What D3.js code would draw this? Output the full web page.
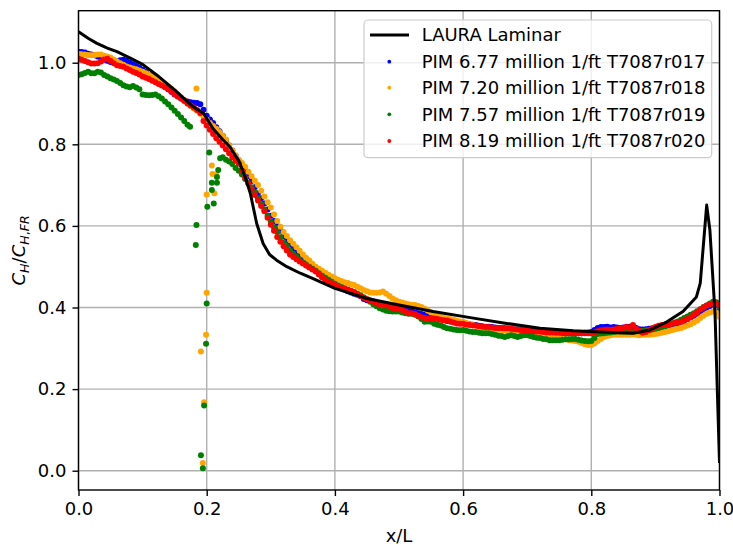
<!DOCTYPE html>
<html>
<head>
<meta charset="utf-8">
<script src="https://cdn.jsdelivr.net/npm/d3@7"></script>
<style>
  body { margin: 0; background: #fff; }
  svg { display: block; font-family: "DejaVu Sans", sans-serif; }
</style>
</head>
<body>
<div id="chart"></div>
<script>
// LAURA laminar prediction
const lauraX = [0, 0.015, 0.028, 0.045, 0.06, 0.08, 0.1, 0.122, 0.153, 0.179, 0.195, 0.21, 0.225, 0.236,
  0.25, 0.26, 0.268, 0.278, 0.288, 0.298, 0.309, 0.325, 0.346, 0.366, 0.4, 0.45, 0.5, 0.553, 0.616,
  0.668, 0.72, 0.772, 0.814, 0.865, 0.892, 0.918, 0.943, 0.964, 0.97, 0.98, 0.985, 0.993, 1.0];
const lauraY = [1.076, 1.06, 1.048, 1.036, 1.027, 1.012, 0.996, 0.97, 0.929, 0.892, 0.876, 0.838, 0.812, 0.794,
  0.76, 0.72, 0.68, 0.606, 0.557, 0.53, 0.516, 0.5, 0.484, 0.471, 0.447, 0.422, 0.406, 0.39, 0.374,
  0.361, 0.349, 0.343, 0.34, 0.337, 0.345, 0.365, 0.39, 0.426, 0.46, 0.651, 0.59, 0.386, 0.019];

// PIM sensor stations (x/L)
const pimX = [
  0, 0.005, 0.01, 0.015, 0.02, 0.025, 0.03, 0.035, 0.04, 0.045,
  0.05, 0.055, 0.06, 0.065, 0.07, 0.075, 0.08, 0.085, 0.09, 0.095,
  0.1, 0.105, 0.11, 0.115, 0.12, 0.125, 0.13, 0.135, 0.14, 0.145,
  0.15, 0.155, 0.16, 0.165, 0.17, 0.175, 0.18, 0.185, 0.19, 0.195,
  0.2, 0.205, 0.21, 0.215, 0.22, 0.225, 0.23, 0.235, 0.24, 0.245,
  0.25, 0.255, 0.26, 0.265, 0.27, 0.275, 0.28, 0.285, 0.29, 0.295,
  0.3, 0.305, 0.31, 0.315, 0.32, 0.325, 0.33, 0.335, 0.34, 0.345,
  0.35, 0.355, 0.36, 0.365, 0.37, 0.375, 0.38, 0.385, 0.39, 0.395,
  0.4, 0.405, 0.41, 0.415, 0.42, 0.425, 0.43, 0.435, 0.44, 0.445,
  0.45, 0.455, 0.46, 0.465, 0.47, 0.475, 0.48, 0.485, 0.49, 0.495,
  0.5, 0.505, 0.51, 0.515, 0.52, 0.525, 0.53, 0.535, 0.54, 0.545,
  0.55, 0.555, 0.56, 0.565, 0.57, 0.575, 0.58, 0.585, 0.59, 0.595,
  0.6, 0.605, 0.61, 0.615, 0.62, 0.625, 0.63, 0.635, 0.64, 0.645,
  0.65, 0.655, 0.66, 0.665, 0.67, 0.675, 0.68, 0.685, 0.69, 0.695,
  0.7, 0.705, 0.71, 0.715, 0.72, 0.725, 0.73, 0.735, 0.74, 0.745,
  0.75, 0.755, 0.76, 0.765, 0.77, 0.775, 0.78, 0.785, 0.79, 0.795,
  0.8, 0.805, 0.81, 0.815, 0.82, 0.825, 0.83, 0.835, 0.84, 0.845,
  0.85, 0.855, 0.86, 0.865, 0.87, 0.875, 0.88, 0.885, 0.89, 0.895,
  0.9, 0.905, 0.91, 0.915, 0.92, 0.925, 0.93, 0.935, 0.94, 0.945,
  0.95, 0.955, 0.96, 0.965, 0.97, 0.975, 0.98, 0.985, 0.99, 0.995,
  1.0];

const r017 = [
  1.027, 1.026, 1.025, 1.022, 1.020, 1.018, 1.015, 1.012, 1.008, 1.005,
  1.002, 1.001, 1.003, 1.006, 1.007, 1.005, 1.000, 0.996, 0.992, 0.988,
  0.983, 0.977, 0.970, 0.966, 0.960, 0.953, 0.946, 0.941, 0.935, 0.929,
  0.922, 0.917, 0.912, 0.908, 0.905, 0.903, 0.902, 0.901, 0.898, 0.885,
  0.870, 0.861, 0.852, 0.842, 0.832, 0.821, 0.810, 0.797, 0.785, 0.772,
  0.760, 0.748, 0.735, 0.722, 0.710, 0.695, 0.680, 0.668, 0.655, 0.640,
  0.625, 0.612, 0.600, 0.588, 0.575, 0.565, 0.555, 0.545, 0.535, 0.525,
  0.515, 0.507, 0.500, 0.495, 0.490, 0.482, 0.475, 0.470, 0.465, 0.460,
  0.455, 0.451, 0.448, 0.444, 0.440, 0.437, 0.434, 0.431, 0.428, 0.421,
  0.418, 0.417, 0.415, 0.411, 0.408, 0.406, 0.407, 0.404, 0.400, 0.399,
  0.398, 0.396, 0.394, 0.392, 0.390, 0.388, 0.386, 0.384, 0.382, 0.380,
  0.377, 0.376, 0.374, 0.372, 0.369, 0.367, 0.366, 0.365, 0.363, 0.362,
  0.362, 0.360, 0.359, 0.358, 0.357, 0.355, 0.354, 0.353, 0.353, 0.352,
  0.351, 0.350, 0.350, 0.349, 0.348, 0.347, 0.346, 0.346, 0.345, 0.344,
  0.344, 0.343, 0.343, 0.342, 0.342, 0.341, 0.341, 0.340, 0.340, 0.339,
  0.339, 0.338, 0.338, 0.337, 0.337, 0.336, 0.337, 0.337, 0.338, 0.339,
  0.340, 0.345, 0.350, 0.352, 0.352, 0.353, 0.351, 0.352, 0.351, 0.350,
  0.351, 0.352, 0.353, 0.352, 0.350, 0.347, 0.346, 0.347, 0.348, 0.349,
  0.350, 0.352, 0.353, 0.354, 0.356, 0.358, 0.360, 0.362, 0.365, 0.368,
  0.372, 0.376, 0.380, 0.385, 0.390, 0.395, 0.400, 0.404, 0.408, 0.407,
  0.395];

const r018 = [
  1.022, 1.021, 1.020, 1.019, 1.018, 1.019, 1.020, 1.020, 1.017, 1.015,
  1.013, 1.008, 1.003, 0.999, 0.995, 0.991, 0.988, 0.986, 0.984, 0.981,
  0.978, 0.974, 0.970, 0.965, 0.960, 0.955, 0.950, 0.946, 0.942, 0.936,
  0.930, 0.922, 0.915, 0.908, 0.900, 0.894, 0.888, 0.882, 0.875, 0.868,
  0.860, 0.852, 0.845, 0.838, 0.830, 0.821, 0.812, 0.798, 0.785, 0.773,
  0.762, 0.754, 0.745, 0.733, 0.722, 0.711, 0.700, 0.686, 0.672, 0.658,
  0.645, 0.628, 0.612, 0.598, 0.585, 0.575, 0.565, 0.556, 0.548, 0.539,
  0.530, 0.522, 0.515, 0.507, 0.500, 0.495, 0.490, 0.485, 0.480, 0.476,
  0.472, 0.468, 0.465, 0.462, 0.460, 0.457, 0.455, 0.451, 0.447, 0.443,
  0.440, 0.437, 0.436, 0.436, 0.437, 0.439, 0.434, 0.428, 0.422, 0.418,
  0.414, 0.412, 0.410, 0.408, 0.407, 0.406, 0.404, 0.401, 0.397, 0.392,
  0.388, 0.384, 0.380, 0.377, 0.375, 0.373, 0.372, 0.370, 0.368, 0.366,
  0.365, 0.362, 0.359, 0.357, 0.355, 0.352, 0.350, 0.349, 0.348, 0.347,
  0.346, 0.345, 0.345, 0.343, 0.342, 0.341, 0.340, 0.338, 0.337, 0.336,
  0.335, 0.334, 0.333, 0.331, 0.330, 0.329, 0.329, 0.328, 0.327, 0.325,
  0.324, 0.323, 0.322, 0.320, 0.319, 0.318, 0.316, 0.313, 0.310, 0.308,
  0.308, 0.312, 0.318, 0.323, 0.328, 0.330, 0.332, 0.333, 0.333, 0.333,
  0.333, 0.333, 0.333, 0.334, 0.333, 0.332, 0.333, 0.333, 0.333, 0.334,
  0.335, 0.336, 0.338, 0.340, 0.342, 0.344, 0.346, 0.348, 0.350, 0.353,
  0.356, 0.359, 0.363, 0.368, 0.374, 0.380, 0.385, 0.388, 0.390, 0.387,
  0.377];

const r019 = [
  0.970, 0.972, 0.975, 0.978, 0.974, 0.974, 0.978, 0.976, 0.970, 0.966,
  0.962, 0.959, 0.955, 0.950, 0.945, 0.942, 0.940, 0.943, 0.939, 0.935,
  0.922, 0.921, 0.920, 0.921, 0.922, 0.918, 0.912, 0.905, 0.898, 0.890,
  0.882, 0.874, 0.866, 0.857, 0.848, null, null, null, null, null,
  null, null, null, null, null, 0.768, 0.762, 0.758, 0.752, 0.742,
  0.735, 0.726, 0.715, 0.705, 0.695, 0.682, 0.668, 0.654, 0.640, 0.625,
  0.610, 0.597, 0.585, 0.572, 0.560, 0.550, 0.540, 0.532, 0.525, 0.517,
  0.510, 0.505, 0.500, 0.495, 0.490, 0.484, 0.478, 0.473, 0.468, 0.463,
  0.458, 0.454, 0.450, 0.447, 0.443, 0.440, 0.437, 0.434, 0.430, 0.425,
  0.420, 0.414, 0.408, 0.403, 0.398, 0.395, 0.392, 0.391, 0.390, 0.390,
  0.390, 0.388, 0.386, 0.385, 0.385, 0.382, 0.378, 0.372, 0.365, 0.366,
  0.365, 0.360, 0.358, 0.356, 0.352, 0.349, 0.348, 0.346, 0.345, 0.344,
  0.345, 0.343, 0.341, 0.340, 0.340, 0.338, 0.337, 0.337, 0.337, 0.335,
  0.333, 0.331, 0.330, 0.328, 0.330, 0.332, 0.330, 0.328, 0.330, 0.332,
  0.332, 0.330, 0.328, 0.326, 0.325, 0.323, 0.322, 0.320, 0.320, 0.320,
  0.320, 0.321, 0.322, 0.322, 0.323, 0.323, 0.321, 0.319, 0.318, 0.317,
  0.318, 0.325, 0.335, 0.336, 0.337, 0.338, 0.339, 0.340, 0.341, 0.341,
  0.341, 0.341, 0.341, 0.341, 0.342, 0.342, 0.343, 0.344, 0.345, 0.346,
  0.348, 0.350, 0.352, 0.354, 0.357, 0.360, 0.363, 0.366, 0.370, 0.374,
  0.378, 0.382, 0.386, 0.391, 0.396, 0.401, 0.405, 0.410, 0.414, 0.413,
  0.400];

const r020 = [
  1.010, 1.007, 1.004, 1.001, 0.998, 0.998, 0.999, 1.003, 1.008, 1.010,
  1.004, 0.999, 0.994, 0.992, 0.990, 0.986, 0.982, 0.978, 0.975, 0.971,
  0.966, 0.963, 0.960, 0.956, 0.952, 0.948, 0.944, 0.940, 0.935, 0.929,
  0.923, 0.918, 0.912, 0.906, 0.900, 0.895, 0.890, 0.884, 0.877, 0.857,
  0.846, 0.836, 0.825, 0.815, 0.806, 0.797, 0.788, 0.778, 0.768, 0.760,
  0.753, 0.736, 0.718, 0.704, 0.690, 0.676, 0.662, 0.649, 0.636, 0.620,
  0.603, 0.588, 0.573, 0.561, 0.550, 0.540, 0.530, 0.524, 0.518, 0.513,
  0.508, 0.503, 0.498, 0.493, 0.488, 0.481, 0.474, 0.468, 0.463, 0.459,
  0.455, 0.451, 0.448, 0.446, 0.444, 0.441, 0.438, 0.433, 0.428, 0.424,
  0.420, 0.417, 0.414, 0.410, 0.406, 0.405, 0.406, 0.402, 0.399, 0.398,
  0.398, 0.394, 0.390, 0.386, 0.386, 0.384, 0.380, 0.376, 0.374, 0.373,
  0.374, 0.373, 0.372, 0.370, 0.369, 0.368, 0.366, 0.363, 0.361, 0.360,
  0.360, 0.358, 0.357, 0.356, 0.356, 0.354, 0.353, 0.352, 0.352, 0.351,
  0.350, 0.350, 0.350, 0.349, 0.349, 0.348, 0.347, 0.346, 0.345, 0.344,
  0.344, 0.343, 0.342, 0.341, 0.341, 0.340, 0.339, 0.339, 0.339, 0.338,
  0.338, 0.337, 0.337, 0.337, 0.337, 0.337, 0.337, 0.337, 0.337, 0.337,
  0.337, 0.339, 0.342, 0.344, 0.345, 0.346, 0.345, 0.346, 0.348, 0.349,
  0.350, 0.353, 0.350, 0.357, 0.348, 0.343, 0.338, 0.340, 0.344, 0.348,
  0.352, 0.355, 0.357, 0.358, 0.358, 0.360, 0.362, 0.364, 0.365, 0.368,
  0.372, 0.376, 0.382, 0.388, 0.395, 0.400, 0.405, 0.408, 0.410, 0.410,
  0.405];

// scattered readings near x/L = 0.2
const r018Extra = [[0.184, 0.937], [0.2, 0.436], [0.199, 0.333], [0.191, 0.292], [0.196, 0.168],
  [0.194, 0.019], [0.2, 0.677], [0.208, 0.748], [0.209, 0.727], [0.212, 0.68], [0.215, 0.726]];
const r019Extra = [[0.174, 0.843], [0.184, 0.602], [0.183, 0.553], [0.2, 0.41], [0.199, 0.311],
  [0.196, 0.16], [0.191, 0.038], [0.194, 0.006], [0.201, 0.647], [0.204, 0.78], [0.208, 0.688],
  [0.208, 0.706], [0.211, 0.655], [0.216, 0.706], [0.216, 0.72], [0.218, 0.737], [0.221, 0.766]];

const xTicks = [0, 0.2, 0.4, 0.6, 0.8, 1.0];
const yTicks = [0, 0.2, 0.4, 0.6, 0.8, 1.0];

const series = [
  { label: 'PIM 6.77 million 1/ft T7087r017', color: '#0000ff', ys: r017, extra: [] },
  { label: 'PIM 7.20 million 1/ft T7087r018', color: '#ffa500', ys: r018, extra: r018Extra },
  { label: 'PIM 7.57 million 1/ft T7087r019', color: '#008000', ys: r019, extra: r019Extra },
  { label: 'PIM 8.19 million 1/ft T7087r020', color: '#ff0000', ys: r020, extra: [] }
];

const width = 733, height = 545;
const mLeft = 78.5, mRight = 719.5, mTop = 10.7, mBottom = 490;
const fs = 18;

const x = d3.scaleLinear().domain([0, 1]).range([mLeft, mRight]);
const y = d3.scaleLinear().domain([-0.0473, 1.1275]).range([mBottom, mTop]);

const svg = d3.select('#chart').append('svg')
  .attr('width', width)
  .attr('height', height);

svg.append('defs').append('clipPath').attr('id', 'clip')
  .append('rect')
  .attr('x', mLeft).attr('y', mTop)
  .attr('width', mRight - mLeft).attr('height', mBottom - mTop);

// grid
const grid = svg.append('g').attr('stroke', '#b0b0b0').attr('stroke-width', 1.4);
grid.selectAll('.gx').data(xTicks).join('line')
  .attr('x1', d => x(d)).attr('x2', d => x(d))
  .attr('y1', mTop).attr('y2', mBottom);
grid.selectAll('.gy').data(yTicks).join('line')
  .attr('x1', mLeft).attr('x2', mRight)
  .attr('y1', d => y(d)).attr('y2', d => y(d));

// scatter
const plot = svg.append('g').attr('clip-path', 'url(#clip)');
series.forEach(s => {
  const pts = pimX.map((xv, i) => [xv, s.ys[i]])
    .filter(p => p[1] != null)
    .concat(s.extra);
  plot.append('g')
    .selectAll('circle')
    .data(pts)
    .join('circle')
    .attr('cx', d => x(d[0]))
    .attr('cy', d => y(d[1]))
    .attr('r', 3)
    .attr('fill', s.color);
});

// LAURA line
const line = d3.line().x(d => x(d[0])).y(d => y(d[1]));
plot.append('path')
  .datum(lauraX.map((xv, i) => [xv, lauraY[i]]))
  .attr('d', line)
  .attr('fill', 'none')
  .attr('stroke', '#000')
  .attr('stroke-width', 3)
  .attr('stroke-linejoin', 'round');

// axes
const xAxis = svg.append('g')
  .attr('transform', `translate(0,${mBottom})`)
  .call(d3.axisBottom(x).tickValues(xTicks).tickFormat(d3.format('.1f')).tickSize(6).tickPadding(6));
const yAxis = svg.append('g')
  .attr('transform', `translate(${mLeft},0)`)
  .call(d3.axisLeft(y).tickValues(yTicks).tickFormat(d3.format('.1f')).tickSize(6).tickPadding(6));
[xAxis, yAxis].forEach(a => {
  a.select('.domain').remove();
  a.selectAll('line').attr('stroke', '#000').attr('stroke-width', 1.4);
  a.selectAll('text').attr('font-size', fs).attr('fill', '#000')
    .attr('font-family', '"DejaVu Sans", sans-serif');
});

// frame
svg.append('rect')
  .attr('x', mLeft).attr('y', mTop)
  .attr('width', mRight - mLeft).attr('height', mBottom - mTop)
  .attr('fill', 'none').attr('stroke', '#000').attr('stroke-width', 1.4);

// axis labels
svg.append('text')
  .attr('x', (mLeft + mRight) / 2).attr('y', 542)
  .attr('text-anchor', 'middle')
  .attr('font-size', fs)
  .text('x/L');

const yl = svg.append('text')
  .attr('transform', `translate(25,${(mTop + mBottom) / 2}) rotate(-90)`)
  .attr('text-anchor', 'middle')
  .attr('font-size', fs);
yl.append('tspan').attr('font-style', 'italic').text('C');
yl.append('tspan').attr('font-style', 'italic').attr('font-size', fs * 0.7).attr('dy', 4).text('H');
yl.append('tspan').attr('dy', -4).text('/');
yl.append('tspan').attr('font-style', 'italic').text('C');
yl.append('tspan').attr('font-style', 'italic').attr('font-size', fs * 0.7).attr('dy', 4).text('H');
yl.append('tspan').attr('font-size', fs * 0.7).text(',');
yl.append('tspan').attr('font-style', 'italic').attr('font-size', fs * 0.7).text('FR');

// legend
const lg = svg.append('g');
lg.append('rect')
  .attr('x', 364).attr('y', 20)
  .attr('width', 347.7).attr('height', 137.7)
  .attr('rx', 4)
  .attr('fill', 'rgba(255,255,255,0.8)')
  .attr('stroke', '#cccccc')
  .attr('stroke-width', 1.2);
const rowY = [35, 61.7, 87.7, 114.3, 141];
lg.append('line')
  .attr('x1', 370).attr('x2', 409)
  .attr('y1', rowY[0]).attr('y2', rowY[0])
  .attr('stroke', '#000').attr('stroke-width', 3);
lg.append('text')
  .attr('x', 421.7).attr('y', rowY[0]).attr('dy', '0.36em')
  .attr('font-size', fs).text('LAURA Laminar');
series.forEach((s, i) => {
  lg.append('circle')
    .attr('cx', 389.3).attr('cy', rowY[i + 1])
    .attr('r', 1.9).attr('fill', s.color);
  lg.append('text')
    .attr('x', 421.7).attr('y', rowY[i + 1]).attr('dy', '0.36em')
    .attr('font-size', fs).text(s.label);
});
</script>
</body>
</html>
